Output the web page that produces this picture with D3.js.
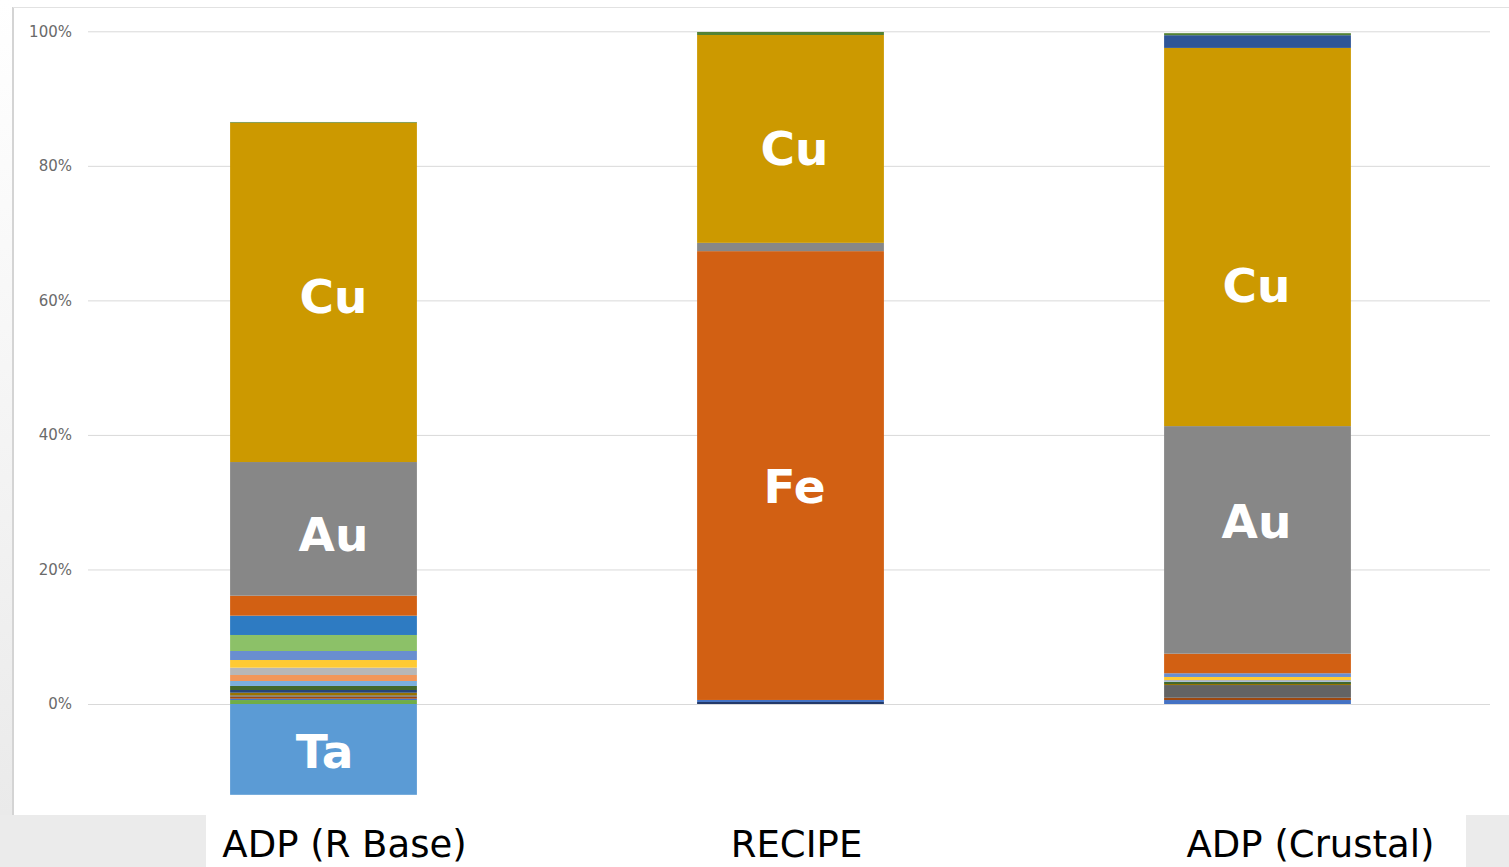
<!DOCTYPE html>
<html>
<head>
<meta charset="utf-8">
<script src="https://cdn.jsdelivr.net/npm/d3@7/dist/d3.min.js"></script>
<style>
  html, body { margin: 0; padding: 0; background: #ffffff; }
  svg { display: block; }
</style>
</head>
<body>
<svg id="chart" width="1509" height="867"></svg>
<script>
// ---- data -------------------------------------------------------------
const categories = ["ADP (R Base)", "RECIPE", "ADP (Crustal)"];

// stacking order, bottom to top (negative values stack below zero)
const seriesKeys = [
  "s01", "s02", "s03", "s04", "s05", "s06", "s07", "s08", "s09", "s10",
  "s11", "s12", "s13", "s14", "s15", "Fe", "Au", "Cu", "s19", "s20", "Ta"
];

// share of the total impact, in percent, one value per series key
const adpRBase   = [0, 0.59, 0.20, 0.30, 0.20, 0.39, 0.40, 0.60, 0.74, 0.89,
                    1.09, 1.14, 1.34, 2.38, 2.87, 2.97, 19.87, 50.45, 0, 0.10, -13.5];
const recipe     = [0.30, 0, 0.30, 0, 0, 0, 0, 0, 0, 0,
                    0, 0, 0, 0, 0, 66.72, 1.23, 30.90, 0, 0.45, 0];
const adpCrustal = [0, 0, 0.59, 0.34, 1.89, 0.15, 0, 0.30, 0.10, 0,
                    0.20, 0.45, 0.55, 0, 0, 2.91, 33.83, 56.22, 1.89, 0.30, 0];

const yTicks = [0, 20, 40, 60, 80, 100];

// element names written inside the bars, with the value (percent) they sit at
const segmentLabels = [
  { category: "ADP (R Base)",  series: "Cu", at: 60.6 },
  { category: "ADP (R Base)",  series: "Au", at: 25.2 },
  { category: "ADP (R Base)",  series: "Ta", at: -7.1 },
  { category: "RECIPE",        series: "Cu", at: 82.6 },
  { category: "RECIPE",        series: "Fe", at: 32.3 },
  { category: "ADP (Crustal)", series: "Cu", at: 62.2 },
  { category: "ADP (Crustal)", series: "Au", at: 27.2 }
];

// ---- styling ----------------------------------------------------------
const palette = {
  s01: "#22396a", s02: "#70ad47", s03: "#4472c4", s04: "#9e480e", s05: "#636363",
  s06: "#997300", s07: "#264478", s08: "#43682b", s09: "#7cafdd", s10: "#f1975a",
  s11: "#b7b7b7", s12: "#ffca33", s13: "#698ed0", s14: "#8cc168", s15: "#2e7bc2",
  Fe: "#d26013", Au: "#878787", Cu: "#cc9900", s19: "#2f5597", s20: "#548235",
  Ta: "#5b9bd5"
};
const labelFont = "'DejaVu Sans', 'Noto Sans', sans-serif";

// ---- build ------------------------------------------------------------
const table = [adpRBase, recipe, adpCrustal].map((vals, i) => {
  const row = { category: categories[i] };
  seriesKeys.forEach((k, j) => { row[k] = vals[j]; });
  return row;
});

const stacked = d3.stack()
  .keys(seriesKeys)
  .offset(d3.stackOffsetDiverging)(table);

const svg = d3.select("#chart");
const W = 1509, H = 867;

const x = d3.scaleBand()
  .domain(categories)
  .range([90, 1491])
  .paddingInner(0.6)
  .paddingOuter(0.3);

const y = d3.scaleLinear()
  .domain([0, 100])
  .range([704, 31.3]);

// page frame
const defs = svg.append("defs");
const grad = defs.append("linearGradient")
  .attr("id", "edgeFade").attr("x1", 0).attr("y1", 0).attr("x2", 0).attr("y2", 1);
grad.append("stop").attr("offset", "0%").attr("stop-color", "#ffffff");
grad.append("stop").attr("offset", "45%").attr("stop-color", "#f6f6f6");
grad.append("stop").attr("offset", "100%").attr("stop-color", "#eaeaea");

svg.append("rect").attr("x", 0).attr("y", 0).attr("width", W).attr("height", H).attr("fill", "#ffffff");
svg.append("rect").attr("x", 0).attr("y", 0).attr("width", 12).attr("height", 815).attr("fill", "url(#edgeFade)");
svg.append("rect").attr("x", 0).attr("y", 815).attr("width", 206).attr("height", 52).attr("fill", "#ebebeb");
svg.append("rect").attr("x", 1466).attr("y", 815).attr("width", 43).attr("height", 52).attr("fill", "#ebebeb");
svg.append("line").attr("x1", 13).attr("x2", 13).attr("y1", 7).attr("y2", 815)
  .attr("stroke", "#d4d4d4").attr("stroke-width", 2);
svg.append("line").attr("x1", 13).attr("x2", W).attr("y1", 7.5).attr("y2", 7.5)
  .attr("stroke", "#e2e2e2").attr("stroke-width", 1);

// gridlines and tick labels
const yAxis = d3.axisLeft(y)
  .tickValues(yTicks)
  .tickSize(-(1490 - 88))
  .tickPadding(16)
  .tickFormat(d => d + "%");

const gAxis = svg.append("g")
  .attr("transform", "translate(88,0)")
  .call(yAxis);
gAxis.select(".domain").remove();
gAxis.selectAll(".tick line").attr("stroke", "#d9d9d9").attr("stroke-width", 1);
gAxis.selectAll(".tick text")
  .attr("fill", "#6a6a6a")
  .style("font-family", labelFont)
  .style("font-size", "15px");

// stacked bars
const layers = svg.append("g")
  .selectAll("g")
  .data(stacked)
  .join("g")
  .attr("fill", d => palette[d.key]);

layers.selectAll("rect")
  .data(d => d.filter(s => s[1] - s[0] !== 0))
  .join("rect")
  .attr("x", d => x(d.data.category))
  .attr("width", x.bandwidth())
  .attr("y", d => y(Math.max(d[0], d[1])))
  .attr("height", d => Math.abs(y(d[0]) - y(d[1])));

// element names inside the bars (text boxes sit a little off the bar centre)
const labelNudge = { "ADP (R Base)": 10, "RECIPE": 4, "ADP (Crustal)": -1 };
svg.append("g")
  .selectAll("text")
  .data(segmentLabels)
  .join("text")
  .attr("x", d => x(d.category) + x.bandwidth() / 2 + (d.series === "Ta" ? 1 : labelNudge[d.category]))
  .attr("y", d => y(d.at))
  .attr("text-anchor", "middle")
  .attr("dominant-baseline", "central")
  .attr("fill", "#ffffff")
  .style("font-family", labelFont)
  .style("font-weight", "bold")
  .style("font-size", "47px")
  .text(d => d.series);

// category names below the plot
const catNudge = [21, 6, 53];
svg.append("g")
  .selectAll("text")
  .data(categories)
  .join("text")
  .attr("x", (d, i) => x(d) + x.bandwidth() / 2 + catNudge[i])
  .attr("y", 857)
  .attr("text-anchor", "middle")
  .attr("fill", "#000000")
  .style("font-family", labelFont)
  .style("font-size", "37px")
  .text(d => d);
</script>
</body>
</html>
